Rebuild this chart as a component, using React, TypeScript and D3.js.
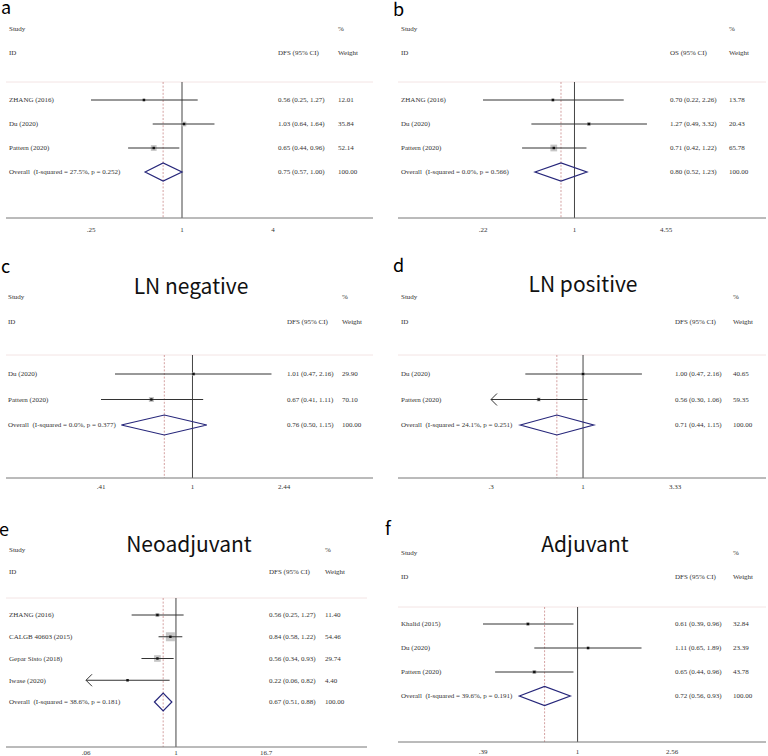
import React from "react";
import * as d3 from "d3";

// ---------- DATA ----------
// Panel a (DFS)
const aStudies = ["ZHANG (2016)", "Du (2020)", "Pattern (2020)"];
const aEst = [0.56, 1.03, 0.65];
const aLow = [0.25, 0.64, 0.44];
const aHigh = [1.27, 1.64, 0.96];
const aWeight = [12.01, 35.84, 52.14];
const aOverall = [0.75, 0.57, 1.0];
const aOverallLabel = "Overall  (I-squared = 27.5%, p = 0.252)";
const aTicks = [0.25, 1, 4];
const aTickLabels = [".25", "1", "4"];

// Panel b (OS)
const bStudies = ["ZHANG (2016)", "Du (2020)", "Pattern (2020)"];
const bEst = [0.7, 1.27, 0.71];
const bLow = [0.22, 0.49, 0.42];
const bHigh = [2.26, 3.32, 1.22];
const bWeight = [13.78, 20.43, 65.78];
const bOverall = [0.8, 0.52, 1.23];
const bOverallLabel = "Overall  (I-squared = 0.0%, p = 0.566)";
const bTicks = [0.22, 1, 4.55];
const bTickLabels = [".22", "1", "4.55"];

// Panel c (LN negative)
const cStudies = ["Du (2020)", "Pattern (2020)"];
const cEst = [1.01, 0.67];
const cLow = [0.47, 0.41];
const cHigh = [2.16, 1.11];
const cWeight = [29.9, 70.1];
const cOverall = [0.76, 0.5, 1.15];
const cOverallLabel = "Overall  (I-squared = 0.0%, p = 0.377)";
const cTicks = [0.41, 1, 2.44];
const cTickLabels = [".41", "1", "2.44"];

// Panel d (LN positive)
const dStudies = ["Du (2020)", "Pattern (2020)"];
const dEst = [1.0, 0.56];
const dLow = [0.47, 0.296];
const dHigh = [2.16, 1.06];
const dWeight = [40.65, 59.35];
const dOverall = [0.71, 0.44, 1.15];
const dOverallLabel = "Overall  (I-squared = 24.1%, p = 0.251)";
const dTicks = [0.3, 1, 3.33];
const dTickLabels = [".3", "1", "3.33"];

// Panel e (Neoadjuvant)
const eStudies = ["ZHANG (2016)", "CALGB 40603 (2015)", "Gepar Sisto (2018)", "Iwase (2020)"];
const eEst = [0.56, 0.84, 0.56, 0.22];
const eLow = [0.25, 0.58, 0.34, 0.059];
const eHigh = [1.27, 1.22, 0.93, 0.82];
const eWeight = [11.4, 54.46, 29.74, 4.4];
const eOverall = [0.67, 0.51, 0.88];
const eOverallLabel = "Overall  (I-squared = 38.6%, p = 0.181)";
const eTicks = [0.06, 1, 16.7];
const eTickLabels = [".06", "1", "16.7"];

// Panel f (Adjuvant)
const fStudies = ["Khalid (2015)", "Du (2020)", "Pattern (2020)"];
const fEst = [0.61, 1.11, 0.65];
const fLow = [0.39, 0.65, 0.44];
const fHigh = [0.96, 1.89, 0.96];
const fWeight = [32.84, 23.39, 43.78];
const fOverall = [0.72, 0.56, 0.93];
const fOverallLabel = "Overall  (I-squared = 39.6%, p = 0.191)";
const fTicks = [0.39, 1, 2.56];
const fTickLabels = [".39", "1", "2.56"];

const panelLetters = ["a", "b", "c", "d", "e", "f"];
const panelTitles = ["", "", "LN negative", "LN positive", "Neoadjuvant", "Adjuvant"];
const measures = ["DFS (95% CI)", "OS (95% CI)", "DFS (95% CI)", "DFS (95% CI)", "DFS (95% CI)", "DFS (95% CI)"];

// ---------- LAYOUT ----------
type Layout = {
  letterX: number; letterY: number; titleX: number; titleY: number;
  studyX: number; valX: number; wX: number; h1Y: number; h2Y: number;
  sepY: number; x0: number; x1: number; rowY0: number; rowStep: number;
  axisY: number; labelY: number; tickX0: number; tickX2: number;
  boxScale: number; diaH: number;
};

const layouts: Layout[] = [
  { letterX: 1, letterY: 13.5, titleX: 0, titleY: 0, studyX: 9, valX: 278, wX: 338, h1Y: 29, h2Y: 53, sepY: 82, x0: 6, x1: 373, rowY0: 100, rowStep: 24, axisY: 218, labelY: 230, tickX0: 91, tickX2: 273, boxScale: 0.8, diaH: 9 },
  { letterX: 393, letterY: 15.5, titleX: 0, titleY: 0, studyX: 401, valX: 670, wX: 729, h1Y: 29, h2Y: 53, sepY: 82, x0: 398, x1: 766, rowY0: 100, rowStep: 24, axisY: 218, labelY: 230, tickX0: 483, tickX2: 666, boxScale: 0.83, diaH: 9 },
  { letterX: 1, letterY: 273, titleX: 191, titleY: 294, studyX: 8, valX: 287, wX: 342, h1Y: 297, h2Y: 322, sepY: 355, x0: 6, x1: 373, rowY0: 374, rowStep: 25.5, axisY: 478, labelY: 487, tickX0: 101, tickX2: 284, boxScale: 0.6, diaH: 10 },
  { letterX: 393, letterY: 272, titleX: 583, titleY: 292, studyX: 401, valX: 675, wX: 733, h1Y: 297, h2Y: 322, sepY: 355, x0: 398, x1: 766, rowY0: 374, rowStep: 25.5, axisY: 478, labelY: 487, tickX0: 491, tickX2: 675, boxScale: 0.5, diaH: 10 },
  { letterX: -1, letterY: 536, titleX: 189, titleY: 552, studyX: 9, valX: 269, wX: 325, h1Y: 550, h2Y: 572, sepY: 598, x0: 6, x1: 367, rowY0: 615, rowStep: 21.75, axisY: 747, labelY: 753, tickX0: 86, tickX2: 266, boxScale: 1.22, diaH: 9 },
  { letterX: 385, letterY: 535, titleX: 585, titleY: 552, studyX: 401, valX: 675, wX: 733, h1Y: 553, h2Y: 577, sepY: 607, x0: 398, x1: 766, rowY0: 624, rowStep: 24, axisY: 742, labelY: 752, tickX0: 483, tickX2: 672, boxScale: 0.6, diaH: 9.5 },
];

const serif = "'Liberation Serif', 'Times New Roman', serif";
const sans = "'Noto Sans CJK SC', 'Noto Sans', sans-serif";
const textColor = "#333";

type PanelData = {
  studies: string[]; est: number[]; low: number[]; high: number[]; weight: number[];
  overall: number[]; overallLabel: string; ticks: number[]; tickLabels: string[];
};

const panelData: PanelData[] = [
  { studies: aStudies, est: aEst, low: aLow, high: aHigh, weight: aWeight, overall: aOverall, overallLabel: aOverallLabel, ticks: aTicks, tickLabels: aTickLabels },
  { studies: bStudies, est: bEst, low: bLow, high: bHigh, weight: bWeight, overall: bOverall, overallLabel: bOverallLabel, ticks: bTicks, tickLabels: bTickLabels },
  { studies: cStudies, est: cEst, low: cLow, high: cHigh, weight: cWeight, overall: cOverall, overallLabel: cOverallLabel, ticks: cTicks, tickLabels: cTickLabels },
  { studies: dStudies, est: dEst, low: dLow, high: dHigh, weight: dWeight, overall: dOverall, overallLabel: dOverallLabel, ticks: dTicks, tickLabels: dTickLabels },
  { studies: eStudies, est: eEst, low: eLow, high: eHigh, weight: eWeight, overall: eOverall, overallLabel: eOverallLabel, ticks: eTicks, tickLabels: eTickLabels },
  { studies: fStudies, est: fEst, low: fLow, high: fHigh, weight: fWeight, overall: fOverall, overallLabel: fOverallLabel, ticks: fTicks, tickLabels: fTickLabels },
];

const fmtCI = (e: number, l: number, h: number) => `${e.toFixed(2)} (${l.toFixed(2)}, ${h.toFixed(2)})`;

function Panel({ d, L, letter, title, measure }: { d: PanelData; L: Layout; letter: string; title: string; measure: string }) {
  const ticks = d.ticks;
  const x = d3.scaleLog().domain([ticks[0], ticks[ticks.length - 1]]).range([L.tickX0, L.tickX2]);
  const xMin = ticks[0];
  const xMax = ticks[ticks.length - 1];
  const nRows = d.studies.length;
  const rowY = (i: number) => L.rowY0 + i * L.rowStep;
  const ovY = rowY(nRows);
  const [oe, ol, oh] = d.overall;
  const fs = 7;
  const diamond = `M${x(ol)},${ovY} L${x(oe)},${ovY - L.diaH} L${x(oh)},${ovY} L${x(oe)},${ovY + L.diaH} Z`;
  return (
    <g>
      <text x={L.letterX} y={L.letterY} fontFamily={sans} fontSize={18} fill="#000">{letter}</text>
      {title && (
        <text x={L.titleX} y={L.titleY} fontFamily={sans} fontSize={21} fill="#111" textAnchor="middle">{title}</text>
      )}
      <g fontFamily={serif} fontSize={fs} fill={textColor}>
        <text x={L.studyX} y={L.h1Y} dy="0.35em">Study</text>
        <text x={L.wX} y={L.h1Y} dy="0.35em">%</text>
        <text x={L.studyX} y={L.h2Y} dy="0.35em">ID</text>
        <text x={L.valX} y={L.h2Y} dy="0.35em">{measure}</text>
        <text x={L.wX} y={L.h2Y} dy="0.35em">Weight</text>
      </g>
      <line x1={L.x0} x2={L.x1} y1={L.sepY} y2={L.sepY} stroke="#f3e4e4" strokeWidth={1} />
      {/* null line */}
      <line x1={x(1)} x2={x(1)} y1={L.sepY} y2={L.axisY} stroke="#444" strokeWidth={1} />
      {/* overall dashed line */}
      <line x1={x(oe)} x2={x(oe)} y1={L.sepY} y2={L.axisY} stroke="#c98a8a" strokeWidth={0.8} strokeDasharray="2,1.6" />
      {d.studies.map((s, i) => {
        const y = rowY(i);
        const side = L.boxScale * Math.sqrt(d.weight[i]);
        const lo = Math.max(d.low[i], xMin);
        const hi = Math.min(d.high[i], xMax);
        const arrowLeft = d.low[i] < xMin;
        return (
          <g key={s}>
            <rect x={x(d.est[i]) - side / 2} y={y - side / 2} width={side} height={side} fill="#c6c6c6" />
            <line x1={x(lo)} x2={x(hi)} y1={y} y2={y} stroke="#333" strokeWidth={1} />
            {arrowLeft && (
              <path d={`M${x(lo) + 6},${y - 6} L${x(lo)},${y} L${x(lo) + 6},${y + 6}`} fill="none" stroke="#333" strokeWidth={1} />
            )}
            <rect x={x(d.est[i]) - 1.2} y={y - 1.2} width={2.4} height={2.4} fill="#111" />
            <g fontFamily={serif} fontSize={fs} fill={textColor}>
              <text x={L.studyX} y={y} dy="0.35em">{s}</text>
              <text x={L.valX} y={y} dy="0.35em">{fmtCI(d.est[i], d.low[i], d.high[i])}</text>
              <text x={L.wX} y={y} dy="0.35em">{d.weight[i].toFixed(2)}</text>
            </g>
          </g>
        );
      })}
      <path d={diamond} fill="none" stroke="#26267a" strokeWidth={1.2} />
      <g fontFamily={serif} fontSize={fs} fill={textColor}>
        <text x={L.studyX} y={ovY} dy="0.35em" style={{ whiteSpace: "pre" }}>{d.overallLabel}</text>
        <text x={L.valX} y={ovY} dy="0.35em">{fmtCI(oe, ol, oh)}</text>
        <text x={L.wX} y={ovY} dy="0.35em">{(100).toFixed(2)}</text>
      </g>
      <line x1={L.x0} x2={L.x1} y1={L.axisY} y2={L.axisY} stroke="#777" strokeWidth={1} />
      <g fontFamily={serif} fontSize={fs} fill={textColor} textAnchor="middle">
        {ticks.map((t, i) => (
          <text key={i} x={x(t)} y={L.labelY} dy="0.35em">{d.tickLabels[i]}</text>
        ))}
      </g>
    </g>
  );
}

export default function App() {
  return (
    <svg width={768} height={756} style={{ position: "absolute", left: 0, top: 0, background: "#fff" }}>
      <rect width={768} height={756} fill="#fff" />
      {panelData.map((d, i) => (
        <Panel key={i} d={d} L={layouts[i]} letter={panelLetters[i]} title={panelTitles[i]} measure={measures[i]} />
      ))}
    </svg>
  );
}
